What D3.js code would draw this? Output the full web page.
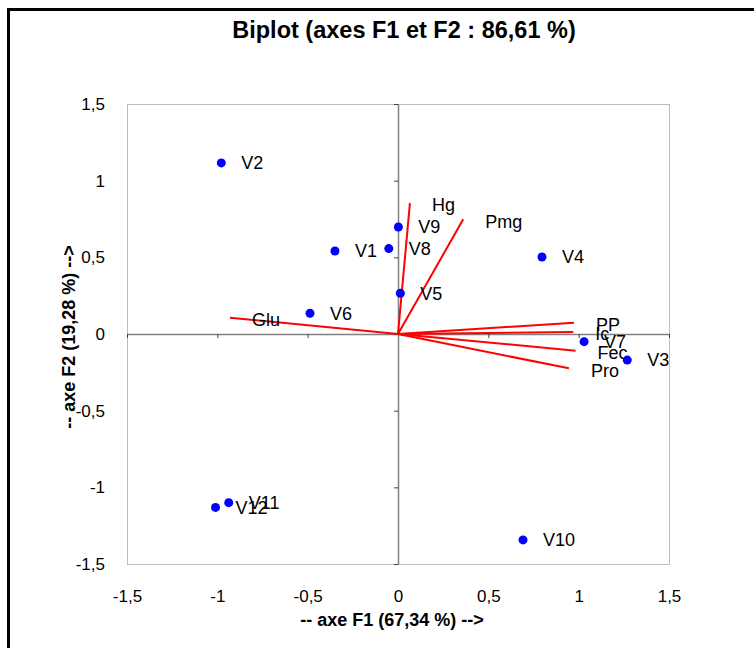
<!doctype html>
<html lang="fr">
<head>
    <meta charset="utf-8"/>
    <title>Biplot (axes F1 et F2)</title>
    <script src="https://d3js.org/d3.v7.min.js"></script>
    <style>
        body { margin: 0; background: #fff; }
        text { font-family: "Liberation Sans", Arial, sans-serif; fill: #000; }
    </style>
</head>
<body>
<svg id="chart"></svg>

<script>
    // observations (scores)
    let obsNames = ["V1", "V2", "V3", "V4", "V5", "V6", "V7", "V8", "V9", "V10", "V11", "V12"]
    let obsF1 = [-0.349, -0.978, 1.269, 0.797, 0.013, -0.487, 1.030, -0.051, 0.002, 0.692, -0.937, -1.010]
    let obsF2 = [0.541, 1.116, -0.170, 0.502, 0.266, 0.135, -0.050, 0.557, 0.698, -1.343, -1.100, -1.131]

    // variables (loadings)
    let varNames = ["Hg", "Pmg", "Glu", "PP", "Ic", "Fec", "Pro"]
    let varF1 = [0.066, 0.361, -0.930, 0.974, 0.970, 0.983, 0.946]
    let varF2 = [0.854, 0.748, 0.106, 0.074, 0.013, -0.109, -0.224]

    let ticks = [-1.5, -1, -0.5, 0, 0.5, 1, 1.5]

    let width = 754,
        height = 648;

    let svg = d3.select("#chart")
        .attr("width", width)
        .attr("height", height);

    // outer frame (runs off the right and bottom edges)
    svg.append("rect")
        .attr("x", 8.5).attr("y", 9.5)
        .attr("width", 800).attr("height", 700)
        .attr("fill", "none")
        .attr("stroke", "#000")
        .attr("stroke-width", 3);

    let x = d3.scaleLinear().domain([-1.5, 1.5]).range([127, 669]);
    let y = d3.scaleLinear().domain([-1.5, 1.5]).range([564, 104]);

    let fmt = d => String(d).replace(".", ",");

    // plot area
    svg.append("rect")
        .attr("x", x(-1.5) + 0.5).attr("y", y(1.5) + 0.5)
        .attr("width", x(1.5) - x(-1.5)).attr("height", y(-1.5) - y(1.5))
        .attr("fill", "none")
        .attr("stroke", "#bdbdbd")
        .attr("stroke-width", 1);

    // zero lines with small ticks
    let xZero = svg.append("g")
        .attr("transform", "translate(0," + y(0) + ")")
        .call(d3.axisBottom(x).tickValues(ticks).tickSizeInner(4).tickSizeOuter(0).tickFormat(""));
    let yZero = svg.append("g")
        .attr("transform", "translate(" + x(0) + ",0)")
        .call(d3.axisLeft(y).tickValues(ticks).tickSizeInner(4).tickSizeOuter(0).tickFormat(""));
    [xZero, yZero].forEach(g => {
        g.select(".domain").attr("stroke", "#808080").attr("stroke-width", 1.5);
        g.selectAll(".tick line").attr("stroke", "#404040");
    });

    // tick labels at the plot edges
    let xLab = svg.append("g")
        .attr("transform", "translate(0," + (y(-1.5) + 23) + ")")
        .call(d3.axisBottom(x).tickValues(ticks).tickSize(0).tickFormat(fmt));
    let yLab = svg.append("g")
        .attr("transform", "translate(" + (x(-1.5) - 22) + ",0)")
        .call(d3.axisLeft(y).tickValues(ticks).tickSize(0).tickFormat(fmt));
    [xLab, yLab].forEach(g => {
        g.select(".domain").remove();
        g.selectAll("text")
            .attr("font-family", "Liberation Sans, Arial, sans-serif")
            .attr("font-size", 17)
            .attr("fill", "#000");
    });
    yLab.selectAll("text").attr("x", 0);

    // variable vectors
    let vars = varNames.map((n, i) => ({name: n, f1: varF1[i], f2: varF2[i]}));
    svg.append("g").selectAll("line")
        .data(vars)
        .enter()
        .append("line")
        .attr("x1", x(0)).attr("y1", y(0))
        .attr("x2", d => x(d.f1)).attr("y2", d => y(d.f2))
        .attr("stroke", "#ff0000")
        .attr("stroke-width", 2);

    svg.append("g").selectAll("text")
        .data(vars)
        .enter()
        .append("text")
        .attr("x", d => x(d.f1) + 22)
        .attr("y", d => y(d.f2) + 2)
        .attr("dy", "0.35em")
        .attr("font-size", 18)
        .text(d => d.name);

    // observations
    let obs = obsNames.map((n, i) => ({name: n, f1: obsF1[i], f2: obsF2[i]}));
    svg.append("g").selectAll("circle")
        .data(obs)
        .enter()
        .append("circle")
        .attr("cx", d => x(d.f1))
        .attr("cy", d => y(d.f2))
        .attr("r", 4.5)
        .attr("fill", "#0000ff");

    svg.append("g").selectAll("text")
        .data(obs)
        .enter()
        .append("text")
        .attr("x", d => x(d.f1) + 20)
        .attr("y", d => y(d.f2))
        .attr("dy", "0.35em")
        .attr("font-size", 18)
        .text(d => d.name);

    // titles
    svg.append("text")
        .attr("x", 404).attr("y", 38)
        .attr("text-anchor", "middle")
        .attr("font-size", 23.5)
        .attr("font-weight", "bold")
        .text("Biplot (axes F1 et F2 : 86,61 %)");

    svg.append("text")
        .attr("x", 392).attr("y", 626)
        .attr("text-anchor", "middle")
        .attr("font-size", 18)
        .attr("font-weight", "bold")
        .text("-- axe F1 (67,34 %) -->");

    svg.append("text")
        .attr("transform", "translate(75,337) rotate(-90)")
        .attr("text-anchor", "middle")
        .attr("font-size", 18)
        .attr("font-weight", "bold")
        .text("-- axe F2 (19,28 %) -->");
</script>
</body>
</html>
